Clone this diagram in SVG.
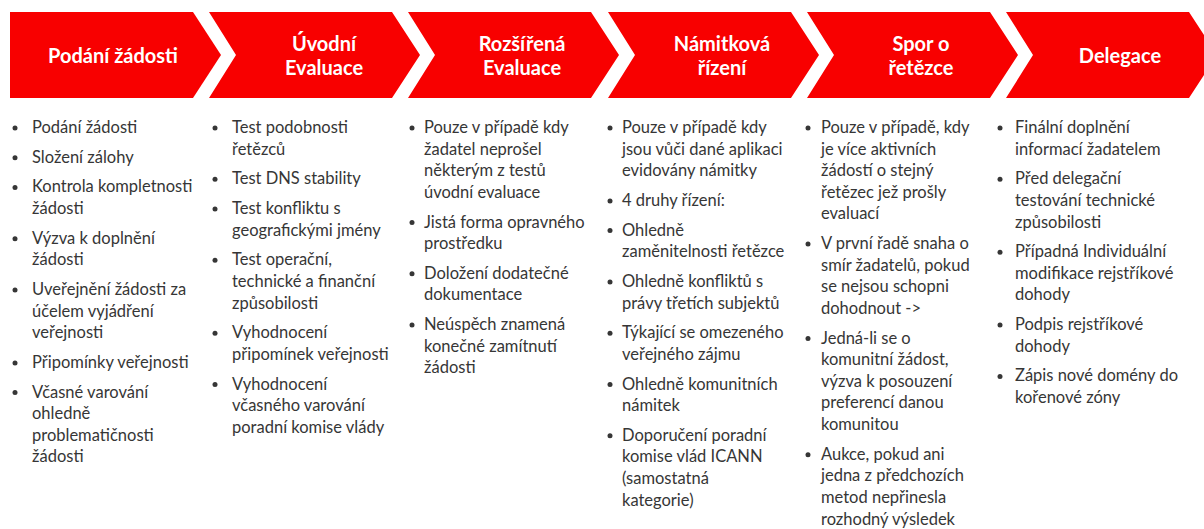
<svg xmlns="http://www.w3.org/2000/svg" width="1204" height="529" viewBox="0 0 1204 529">
<style>
.chev{fill:#F80000}
.hd{font-family:Lato,"Liberation Sans",sans-serif;font-weight:bold;font-size:20px;fill:#ffffff;text-anchor:middle}
.bd{font-family:Lato,"Liberation Sans",sans-serif;font-size:16.5px;fill:#363636}
.dot{fill:#363636}
</style>
<rect width="1204" height="529" fill="#ffffff"/>
<g id="stage1">
<polygon class="chev" points="10,12 193,12 221,55 193,98 10,98"/>
<text class="hd" x="113" y="63">Podání žádosti</text>
</g>
<g id="stage2">
<polygon class="chev" points="209,12 392,12 420,55 392,98 209,98 236,55"/>
<text class="hd" x="324" y="51">Úvodní</text>
<text class="hd" x="324" y="75">Evaluace</text>
</g>
<g id="stage3">
<polygon class="chev" points="408,12 591,12 619,55 591,98 408,98 435,55"/>
<text class="hd" x="522" y="51">Rozšířená</text>
<text class="hd" x="522" y="75">Evaluace</text>
</g>
<g id="stage4">
<polygon class="chev" points="608,12 791,12 819,55 791,98 608,98 635,55"/>
<text class="hd" x="722" y="51">Námitková</text>
<text class="hd" x="722" y="75">řízení</text>
</g>
<g id="stage5">
<polygon class="chev" points="807,12 990,12 1018,55 990,98 807,98 834,55"/>
<text class="hd" x="921" y="51">Spor o</text>
<text class="hd" x="921" y="75">řetězce</text>
</g>
<g id="stage6">
<polygon class="chev" points="1006,12 1189,12 1217,55 1189,98 1006,98 1033,55"/>
<text class="hd" x="1120" y="63">Delegace</text>
</g>

<g id="list1">
<circle class="dot" cx="15" cy="128" r="2.5"/>
<circle class="dot" cx="15" cy="157.7" r="2.5"/>
<circle class="dot" cx="15" cy="187.4" r="2.5"/>
<circle class="dot" cx="15" cy="238.7" r="2.5"/>
<circle class="dot" cx="15" cy="290" r="2.5"/>
<circle class="dot" cx="15" cy="362.9" r="2.5"/>
<circle class="dot" cx="15" cy="392.6" r="2.5"/>
<text class="bd">
<tspan x="32" y="133">Podání žádosti</tspan>
<tspan x="32" y="162.7">Složení zálohy</tspan>
<tspan x="32" y="192.4">Kontrola kompletnosti</tspan>
<tspan x="32" y="214">žádosti</tspan>
<tspan x="32" y="243.7">Výzva k doplnění</tspan>
<tspan x="32" y="265.3">žádosti</tspan>
<tspan x="32" y="295">Uveřejnění žádosti za</tspan>
<tspan x="32" y="316.6">účelem vyjádření</tspan>
<tspan x="32" y="338.2">veřejnosti</tspan>
<tspan x="32" y="367.9">Připomínky veřejnosti</tspan>
<tspan x="32" y="397.6">Včasné varování</tspan>
<tspan x="32" y="419.2">ohledně</tspan>
<tspan x="32" y="440.8">problematičnosti</tspan>
<tspan x="32" y="462.4">žádosti</tspan>
</text>
</g>

<g id="list2">
<circle class="dot" cx="215" cy="128" r="2.5"/>
<circle class="dot" cx="215" cy="179.3" r="2.5"/>
<circle class="dot" cx="215" cy="209" r="2.5"/>
<circle class="dot" cx="215" cy="260.3" r="2.5"/>
<circle class="dot" cx="215" cy="333.2" r="2.5"/>
<circle class="dot" cx="215" cy="384.5" r="2.5"/>
<text class="bd">
<tspan x="232" y="133">Test podobnosti</tspan>
<tspan x="232" y="154.6">řetězců</tspan>
<tspan x="232" y="184.3">Test DNS stability</tspan>
<tspan x="232" y="214">Test konfliktu s</tspan>
<tspan x="232" y="235.6">geografickými jmény</tspan>
<tspan x="232" y="265.3">Test operační,</tspan>
<tspan x="232" y="286.9">technické a finanční</tspan>
<tspan x="232" y="308.5">způsobilosti</tspan>
<tspan x="232" y="338.2">Vyhodnocení</tspan>
<tspan x="232" y="359.8">připomínek veřejnosti</tspan>
<tspan x="232" y="389.5">Vyhodnocení</tspan>
<tspan x="232" y="411.1">včasného varování</tspan>
<tspan x="232" y="432.7">poradní komise vlády</tspan>
</text>
</g>

<g id="list3">
<circle class="dot" cx="412" cy="128" r="2.5"/>
<circle class="dot" cx="412" cy="222.5" r="2.5"/>
<circle class="dot" cx="412" cy="273.8" r="2.5"/>
<circle class="dot" cx="412" cy="325.1" r="2.5"/>
<text class="bd">
<tspan x="424" y="133">Pouze v případě kdy</tspan>
<tspan x="424" y="154.6">žadatel neprošel</tspan>
<tspan x="424" y="176.2">některým z testů</tspan>
<tspan x="424" y="197.8">úvodní evaluace</tspan>
<tspan x="424" y="227.5">Jistá forma opravného</tspan>
<tspan x="424" y="249.1">prostředku</tspan>
<tspan x="424" y="278.8">Doložení dodatečné</tspan>
<tspan x="424" y="300.4">dokumentace</tspan>
<tspan x="424" y="330.1">Neúspěch znamená</tspan>
<tspan x="424" y="351.7">konečné zamítnutí</tspan>
<tspan x="424" y="373.3">žádosti</tspan>
</text>
</g>

<g id="list4">
<circle class="dot" cx="610" cy="128" r="2.5"/>
<circle class="dot" cx="610" cy="200.9" r="2.5"/>
<circle class="dot" cx="610" cy="230.6" r="2.5"/>
<circle class="dot" cx="610" cy="281.9" r="2.5"/>
<circle class="dot" cx="610" cy="333.2" r="2.5"/>
<circle class="dot" cx="610" cy="384.5" r="2.5"/>
<circle class="dot" cx="610" cy="435.8" r="2.5"/>
<text class="bd">
<tspan x="622" y="133">Pouze v případě kdy</tspan>
<tspan x="622" y="154.6">jsou vůči dané aplikaci</tspan>
<tspan x="622" y="176.2">evidovány námitky</tspan>
<tspan x="622" y="205.9">4 druhy řízení:</tspan>
<tspan x="622" y="235.6">Ohledně</tspan>
<tspan x="622" y="257.2">zaměnitelnosti řetězce</tspan>
<tspan x="622" y="286.9">Ohledně konfliktů s</tspan>
<tspan x="622" y="308.5">právy třetích subjektů</tspan>
<tspan x="622" y="338.2">Týkající se omezeného</tspan>
<tspan x="622" y="359.8">veřejného zájmu</tspan>
<tspan x="622" y="389.5">Ohledně komunitních</tspan>
<tspan x="622" y="411.1">námitek</tspan>
<tspan x="622" y="440.8">Doporučení poradní</tspan>
<tspan x="622" y="462.4">komise vlád ICANN</tspan>
<tspan x="622" y="484">(samostatná</tspan>
<tspan x="622" y="505.6">kategorie)</tspan>
</text>
</g>

<g id="list5">
<circle class="dot" cx="808" cy="128" r="2.5"/>
<circle class="dot" cx="808" cy="244.1" r="2.5"/>
<circle class="dot" cx="808" cy="338.6" r="2.5"/>
<circle class="dot" cx="808" cy="454.7" r="2.5"/>
<text class="bd">
<tspan x="821" y="133">Pouze v případě, kdy</tspan>
<tspan x="821" y="154.6">je více aktivních</tspan>
<tspan x="821" y="176.2">žádostí o stejný</tspan>
<tspan x="821" y="197.8">řetězec jež prošly</tspan>
<tspan x="821" y="219.4">evaluací</tspan>
<tspan x="821" y="249.1">V první řadě snaha o</tspan>
<tspan x="821" y="270.7">smír žadatelů, pokud</tspan>
<tspan x="821" y="292.3">se nejsou schopni</tspan>
<tspan x="821" y="313.9">dohodnout -&gt;</tspan>
<tspan x="821" y="343.6">Jedná-li se o</tspan>
<tspan x="821" y="365.2">komunitní žádost,</tspan>
<tspan x="821" y="386.8">výzva k posouzení</tspan>
<tspan x="821" y="408.4">preferencí danou</tspan>
<tspan x="821" y="430">komunitou</tspan>
<tspan x="821" y="459.7">Aukce, pokud ani</tspan>
<tspan x="821" y="481.3">jedna z předchozích</tspan>
<tspan x="821" y="502.9">metod nepřinesla</tspan>
<tspan x="821" y="524.5">rozhodný výsledek</tspan>
</text>
</g>

<g id="list6">
<circle class="dot" cx="1000" cy="128" r="2.5"/>
<circle class="dot" cx="1000" cy="179.3" r="2.5"/>
<circle class="dot" cx="1000" cy="252.2" r="2.5"/>
<circle class="dot" cx="1000" cy="325.1" r="2.5"/>
<circle class="dot" cx="1000" cy="376.4" r="2.5"/>
<text class="bd">
<tspan x="1015" y="133">Finální doplnění</tspan>
<tspan x="1015" y="154.6">informací žadatelem</tspan>
<tspan x="1015" y="184.3">Před delegační</tspan>
<tspan x="1015" y="205.9">testování technické</tspan>
<tspan x="1015" y="227.5">způsobilosti</tspan>
<tspan x="1015" y="257.2">Případná Individuální</tspan>
<tspan x="1015" y="278.8">modifikace rejstříkové</tspan>
<tspan x="1015" y="300.4">dohody</tspan>
<tspan x="1015" y="330.1">Podpis rejstříkové</tspan>
<tspan x="1015" y="351.7">dohody</tspan>
<tspan x="1015" y="381.4">Zápis nové domény do</tspan>
<tspan x="1015" y="403">kořenové zóny</tspan>
</text>
</g>
</svg>
